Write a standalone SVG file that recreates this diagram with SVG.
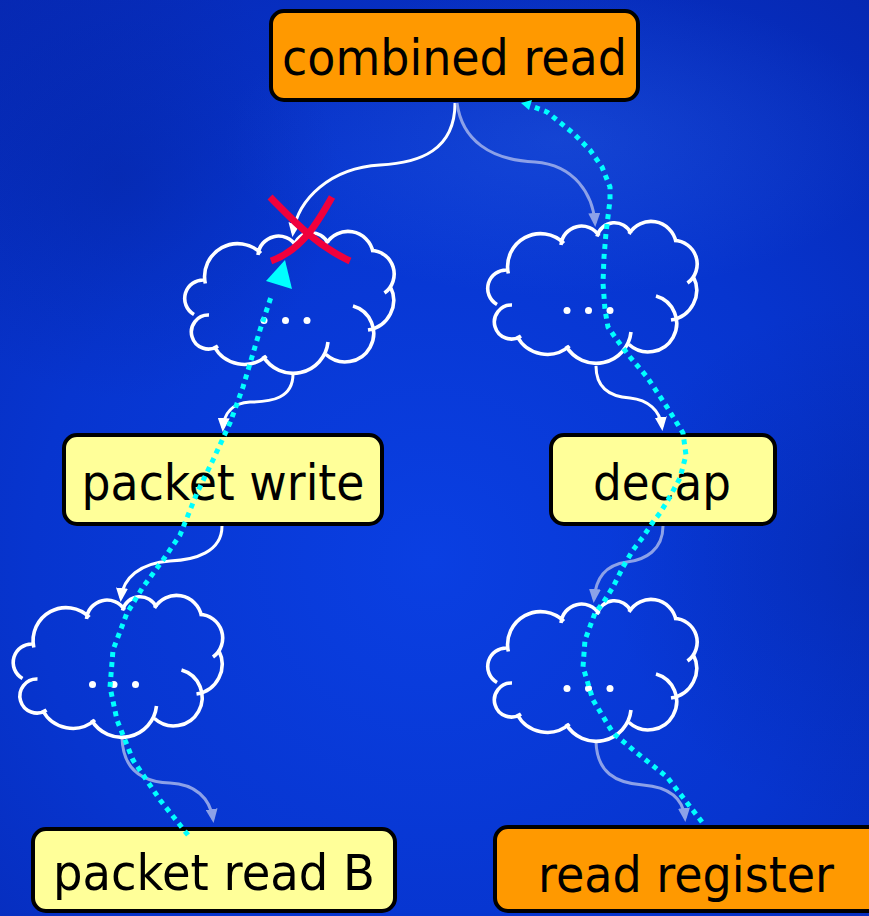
<svg xmlns="http://www.w3.org/2000/svg" xmlns:xlink="http://www.w3.org/1999/xlink" width="869" height="916" viewBox="0 0 869 916">
  <style>
    .box { stroke: #000; stroke-width: 4; }
    .orange { fill: #ff9900; }
    .yellow { fill: #ffff99; }
    .label { font-family: "DejaVu Sans", "Liberation Sans", sans-serif; font-size: 50px; fill: #000; text-anchor: middle; }
    .cloud path { fill: none; stroke: #fff; stroke-width: 3.6; stroke-linecap: butt; }
    .cloud circle { fill: #fff; }
    .edge { fill: none; stroke-width: 3; }
    .edge.main { stroke: #ffffff; marker-end: url(#head-white); }
    .edge.soft { stroke: #8ca1e8; marker-end: url(#head-soft); }
    .trace { fill: none; stroke: #00ffff; stroke-width: 5; stroke-dasharray: 5 5; stroke-linejoin: round; }
    .cross { fill: none; stroke: #f0003c; stroke-width: 7; }
  </style>
  <defs>
    <radialGradient id="bg" gradientUnits="userSpaceOnUse" cx="430" cy="560" r="720">
      <stop offset="0" stop-color="#0a3fe2"/>
      <stop offset="0.55" stop-color="#0735cf"/>
      <stop offset="1" stop-color="#0628b2"/>
    </radialGradient>
    <radialGradient id="glow" gradientUnits="userSpaceOnUse" cx="560" cy="140" r="260" gradientTransform="translate(560,140) scale(1.3,0.6) translate(-560,-140)">
      <stop offset="0" stop-color="#4a88f5" stop-opacity="0.2"/>
      <stop offset="1" stop-color="#4a88f5" stop-opacity="0"/>
    </radialGradient>
    <radialGradient id="shade-left" gradientUnits="userSpaceOnUse" cx="120" cy="180" r="220">
      <stop offset="0" stop-color="#031c8a" stop-opacity="0.3"/>
      <stop offset="1" stop-color="#031c8a" stop-opacity="0"/>
    </radialGradient>
    <radialGradient id="shade-right" gradientUnits="userSpaceOnUse" cx="869" cy="560" r="260">
      <stop offset="0" stop-color="#031c8a" stop-opacity="0.3"/>
      <stop offset="1" stop-color="#031c8a" stop-opacity="0"/>
    </radialGradient>
    <marker id="head-white" markerUnits="userSpaceOnUse" viewBox="0 0 14 12" markerWidth="14" markerHeight="12" refX="10" refY="6" orient="auto">
      <path d="M0,0 L14,6 L0,12 z" fill="#ffffff"/>
    </marker>
    <marker id="head-soft" markerUnits="userSpaceOnUse" viewBox="0 0 14 12" markerWidth="14" markerHeight="12" refX="10" refY="6" orient="auto">
      <path d="M0,0 L14,6 L0,12 z" fill="#8ca1e8"/>
    </marker>
    <!-- cloud outline: eleven lobes plus the three dots, drawn at the upper-right position -->
    <g id="cloud-shape" class="cloud">
      <path d="M508.3,273.5 A33,33 0 0 1 563.9,243.3 M561,245 A20.5,20.5 0 0 1 599,236 M597,236.5 A18,18 0 0 1 631,233.5 M629,234 A25.5,25.5 0 0 1 676,242 M674,240.5 A23.5,23.5 0 0 1 687.5,283 M693.3,276.6 A30,30 0 0 1 671,320 M656,296 A28.5,28.5 0 1 1 629,344.5 M631,332 A35,35 0 0 1 566,346 M569.5,346 A34,34 0 0 1 517,336 M521,336 A17,17 0 1 1 512,305 M497,304.5 A18.5,18.5 0 0 1 507.5,270"/>
      <circle cx="567" cy="310.5" r="3.5"/>
      <circle cx="588.5" cy="310.5" r="3.5"/>
      <circle cx="610" cy="310.5" r="3.5"/>
    </g>
  </defs>

  <!-- backdrop -->
  <rect width="869" height="916" fill="url(#bg)"/>
  <rect width="869" height="916" fill="url(#glow)"/>
  <rect width="869" height="916" fill="url(#shade-left)"/>
  <rect width="869" height="916" fill="url(#shade-right)"/>

  <!-- flow edges -->
  <g id="connectors">
    <path class="edge main" d="M455,103 C455,150 420,163 380,165 C330,168 298,199 293,233"/>
    <path class="edge soft" d="M457,103 C462,140 490,160 535,162 C575,165 593,195 595,223"/>
    <path class="edge main" d="M293,374 C293,398 272,402 250,402 C232,403 224,414 223,428"/>
    <path class="edge main" d="M596,366 C596,392 615,397 630,398 C648,400 660,410 662,427"/>
    <path class="edge main" d="M222,526 C222,552 195,560 170,561 C140,563 123,578 121,598"/>
    <path class="edge soft" d="M663,526 C663,550 645,560 627,562 C605,565 596,578 594,599"/>
    <path class="edge soft" d="M122,738 C123,768 140,782 170,783 C195,784 210,798 213,819"/>
    <path class="edge soft" d="M596,742 C597,772 615,783 643,785 C668,787 683,798 685,818"/>
  </g>

  <!-- clouds -->
  <g id="cloud-upper-left"><use xlink:href="#cloud-shape" href="#cloud-shape" transform="translate(-303,10)"/></g>
  <g id="cloud-upper-right"><use xlink:href="#cloud-shape" href="#cloud-shape"/></g>
  <g id="cloud-lower-left"><use xlink:href="#cloud-shape" href="#cloud-shape" transform="translate(-474.5,374)"/></g>
  <g id="cloud-lower-right"><use xlink:href="#cloud-shape" href="#cloud-shape" transform="translate(0,378)"/></g>

  <!-- boxes -->
  <g id="combined-read">
    <rect class="box orange" x="271" y="11" width="367" height="89" rx="13"/>
    <text class="label" x="454.5" y="75" textLength="345" lengthAdjust="spacingAndGlyphs">combined read</text>
  </g>
  <g id="packet-write">
    <rect class="box yellow" x="64" y="435" width="318" height="89" rx="13"/>
    <text class="label" x="223" y="500" textLength="283" lengthAdjust="spacingAndGlyphs">packet write</text>
  </g>
  <g id="decap">
    <rect class="box yellow" x="551" y="435" width="224" height="89" rx="13"/>
    <text class="label" x="662" y="500" textLength="138" lengthAdjust="spacingAndGlyphs">decap</text>
  </g>
  <g id="packet-read-b">
    <rect class="box yellow" x="33" y="829" width="362" height="82" rx="13"/>
    <text class="label" x="214" y="890" textLength="322" lengthAdjust="spacingAndGlyphs">packet read B</text>
  </g>
  <g id="read-register">
    <rect class="box orange" x="495" y="827" width="390" height="84" rx="13"/>
    <text class="label" x="686" y="892" textLength="296" lengthAdjust="spacingAndGlyphs">read register</text>
  </g>

  <!-- dependency traces -->
  <g id="trace-connectors">
    <path class="trace" d="M188,835 L160,800 L133,760 L117,720 L110,687 L113,650 L127,613 L143,587 L163,560 L180,535 L197,493 L213,460 L230,423 L243,387 L260,330 L272,294"/>
    <polygon points="285,260 266,281 292,289" fill="#00ffff"/>
    <path class="trace" d="M702,822 L667,777 L637,753 L613,733 L593,700 L583,667 L585,640 L595,613 L603,603 L613,587 L623,567 L633,550 L643,537 L653,522 L660,513 L668,500 L680,478 L686,455 L683,433 L667,407 L647,377 L630,357 L617,340 L608,327 L605,310 L603,283 L604,257 L606,233 L610,200 L610,187 L602,167 L590,150 L573,133 L547,112 L531,106"/>
    <polygon points="521,103 532,100 529,110" fill="#00ffff"/>
  </g>

  <!-- rejected edge mark -->
  <g id="reject-mark">
    <path class="cross" d="M270,197 C290,217 315,245 350,261"/>
    <path class="cross" d="M332,197 C318,222 302,250 271,261"/>
  </g>
</svg>
